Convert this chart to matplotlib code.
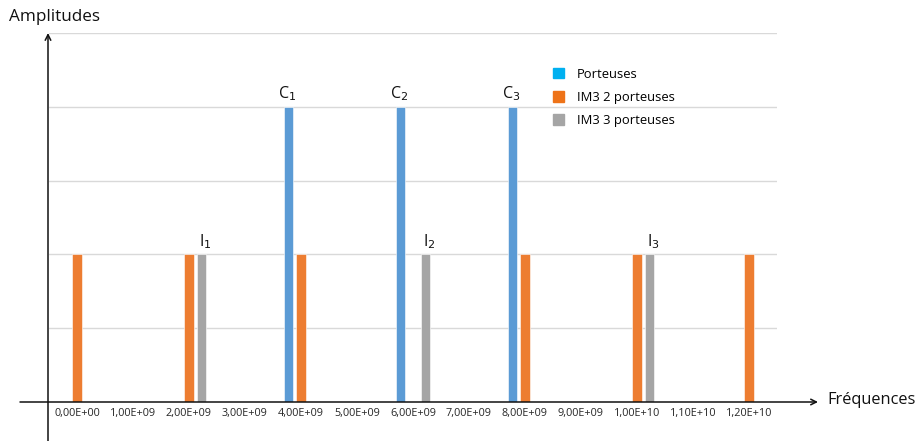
import matplotlib
matplotlib.use('Agg')
import matplotlib.pyplot as plt
from matplotlib.patches import Patch
import numpy as np

plt.rcParams['font.family'] = ['Open Sans', 'DejaVu Sans']

categories = ['0,00E+00', '1,00E+09', '2,00E+09', '3,00E+09', '4,00E+09',
              '5,00E+09', '6,00E+09', '7,00E+09', '8,00E+09', '9,00E+09',
              '1,00E+10', '1,10E+10', '1,20E+10']
porteuses = [0, 0, 0, 0, 4, 0, 4, 0, 4, 0, 0, 0, 0]
im3_2 = [2, 0, 2, 0, 2, 0, 0, 0, 2, 0, 2, 0, 2]
im3_3 = [0, 0, 2, 0, 0, 0, 2, 0, 0, 0, 2, 0, 0]

c_labels = ['C$_1$', 'C$_2$', 'C$_3$']
i_labels = ['I$_1$', 'I$_2$', 'I$_3$']

blue = '#5B9BD5'
orange = '#ED7D31'
grey = '#A5A5A5'

W, H = 920, 441
fig = plt.figure(figsize=(W / 100, H / 100), dpi=100)
ax = fig.add_axes([49 / W, (H - 402) / H, 728 / W, 369 / H])

x = np.arange(len(categories))
bw = 0.17
off = 0.22
ax.bar(x - off, porteuses, bw, color=blue, edgecolor='white', linewidth=0.4, zorder=3)
ax.bar(x, im3_2, bw, color=orange, edgecolor='white', linewidth=0.4, zorder=3)
ax.bar(x + off, im3_3, bw, color=grey, edgecolor='white', linewidth=0.4, zorder=3)

ax.set_xlim(-0.5, len(categories) - 0.5)
ax.set_ylim(0, 5)
ax.set_yticks([1, 2, 3, 4, 5])
ax.set_yticklabels([])
ax.tick_params(axis='y', length=0)
ax.grid(axis='y', color='#D9D9D9', linewidth=1, zorder=0)
ax.set_xticks(x)
ax.set_xticklabels(categories, fontsize=7.8, color='#262626')
ax.tick_params(axis='x', length=0, pad=4)
for s in ax.spines.values():
    s.set_visible(False)

# labels on carriers and 3-carrier products
ci = [i for i, v in enumerate(porteuses) if v > 0]
for k, i in enumerate(ci):
    ax.text(i - off - 0.03, porteuses[i] + 0.05, c_labels[k], ha='center', va='bottom',
            fontsize=11.5, color='#111111')
gi = [i for i, v in enumerate(im3_3) if v > 0]
for k, i in enumerate(gi):
    ax.text(i + off - 0.04, im3_3[i] + 0.05, i_labels[k], ha='left', va='bottom',
            fontsize=11.5, color='#111111')

# axis arrows
ax.annotate('', xy=(818 / W, 1 - 402 / H), xytext=(20 / W, 1 - 402 / H),
            xycoords='figure fraction', textcoords='figure fraction',
            arrowprops=dict(arrowstyle='->', color='#111111', lw=1.1, shrinkA=0, shrinkB=0))
ax.annotate('', xy=(48 / W, 1 - 33 / H), xytext=(48 / W, 0),
            xycoords='figure fraction', textcoords='figure fraction',
            arrowprops=dict(arrowstyle='->', color='#111111', lw=1.1, shrinkA=0, shrinkB=0))

fig.text(9 / W, 1 - 17 / H, 'Amplitudes', fontsize=12.3, color='#111111', va='center')
fig.text(827 / W, 1 - 400 / H, 'Fréquences', fontsize=11.8, color='#111111', va='center')

handles = [Patch(color='#00B0F0'), Patch(color='#EE7318'), Patch(color='#A5A5A5')]
fig.legend(handles, ['Porteuses', 'IM3 2 porteuses', 'IM3 3 porteuses'],
           loc='upper left', bbox_to_anchor=(541 / W, 1 - 56 / H), frameon=False,
           fontsize=9.4, handlelength=0.85, handleheight=0.85, handletextpad=1.0,
           labelspacing=0.78)

fig.savefig('out.png', dpi=100)
